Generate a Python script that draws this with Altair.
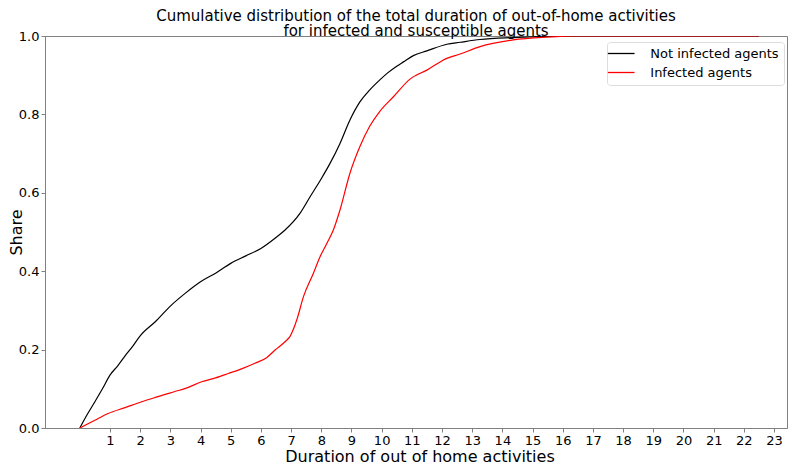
import altair as alt
import pandas as pd

series_names = ["Not infected agents", "Infected agents"]

not_inf_x = [0, 0.25, 0.5, 0.75, 1.0, 1.25, 1.5, 1.75, 2.0, 2.5, 3.0, 3.5, 4.0, 4.5, 5.0, 5.5, 6.0, 6.5,
             6.8, 7.3, 7.63, 8.0, 8.29, 8.62, 8.95, 9.28, 9.6, 9.94, 10.2, 10.5, 10.72, 11.05, 11.5,
             12.16, 12.6, 13.26, 14.36, 15.5, 16.5, 18, 20, 22.5]
not_inf_y = [0.0, 0.035, 0.067, 0.1, 0.135, 0.158, 0.184, 0.208, 0.235, 0.271, 0.311, 0.344, 0.373, 0.395,
             0.42, 0.439, 0.458, 0.486, 0.505, 0.548, 0.59, 0.636, 0.675, 0.726, 0.786, 0.832, 0.862,
             0.888, 0.906, 0.923, 0.934, 0.95, 0.962, 0.979, 0.984, 0.991, 0.996, 0.999, 1.0, 1.0, 1.0, 1.0]

inf_x = [0, 0.5, 0.94, 1.5, 2.05, 2.5, 3.15, 3.5, 4.04, 4.5, 4.92, 5.4, 5.8, 6.2, 6.47, 6.8, 6.96, 7.19,
         7.41, 7.74, 7.96, 8.18, 8.4, 8.62, 8.95, 9.28, 9.6, 9.94, 10.39, 10.94, 11.5, 12.16, 12.6, 13.26,
         14.36, 15.47, 16.6, 18, 20, 22.5]
inf_y = [0.0, 0.02, 0.037, 0.052, 0.067, 0.078, 0.093, 0.101, 0.118, 0.128, 0.139, 0.152, 0.165, 0.18,
         0.199, 0.22, 0.233, 0.276, 0.335, 0.395, 0.437, 0.47, 0.505, 0.556, 0.65, 0.718, 0.769, 0.808,
         0.845, 0.89, 0.913, 0.943, 0.954, 0.973, 0.99, 0.997, 1.0, 1.0, 1.0, 1.0]

x_ticks = list(range(1, 24))
y_ticks = [0.0, 0.2, 0.4, 0.6, 0.8, 1.0]

title_lines = ["Cumulative distribution of the total duration of out-of-home activities",
               "for infected and susceptible agents"]

df = pd.concat([
    pd.DataFrame({"x": not_inf_x, "y": not_inf_y, "series": series_names[0], "order": range(len(not_inf_x))}),
    pd.DataFrame({"x": inf_x, "y": inf_y, "series": series_names[1], "order": range(len(inf_x))}),
])

FONT = "DejaVu Sans"
GREY = "#808080"

chart = alt.Chart(df).mark_line(strokeWidth=1.2, clip=True, interpolate="monotone").encode(
    x=alt.X("x:Q",
            scale=alt.Scale(domain=[-1.153, 23.43], nice=False, zero=False),
            axis=alt.Axis(values=x_ticks, title="Duration of out of home activities", grid=False,
                          labelFontSize=13, titleFontSize=16, titleFontWeight="normal",
                          tickSize=4, labelPadding=2, format="d",
                          titleX=374.5, titleY=33, titleBaseline="alphabetic", titleAlign="center",
                          domainColor=GREY, tickColor=GREY, labelColor="#000",
                          titleColor="#000", labelFont=FONT, titleFont=FONT)),
    y=alt.Y("y:Q",
            scale=alt.Scale(domain=[0, 1], nice=False),
            axis=alt.Axis(values=y_ticks, title="Share", grid=False, format=".1f",
                          labelFontSize=13, titleFontSize=16, titleFontWeight="normal",
                          tickSize=4, labelPadding=2,
                          titleX=-24, titleY=196, titleAngle=270, titleBaseline="alphabetic",
                          titleAlign="center",
                          domainColor=GREY, tickColor=GREY, labelColor="#000",
                          titleColor="#000", labelFont=FONT, titleFont=FONT)),
    color=alt.Color("series:N",
                    scale=alt.Scale(domain=series_names, range=["#000000", "#ff0000"]),
                    legend=alt.Legend(title=None, orient="none", legendX=562, legendY=6,
                                      symbolType="M-2.67,0H2.67", symbolSize=100, symbolStrokeWidth=1.3,
                                      symbolOffset=2.7,
                                      labelFontSize=13, labelFont=FONT, labelColor="#000",
                                      padding=5, rowPadding=5, labelOffset=22.6,
                                      strokeColor="#dddddd", fillColor="#ffffff",
                                      cornerRadius=3)),
    order="order:Q",
).properties(
    width=742,
    height=392,
    title=alt.TitleParams(
        title_lines,
        fontSize=15, font=FONT, fontWeight="normal", color="#000", anchor="middle",
        lineHeight=14.8, offset=0, dy=8.6),
    autosize=alt.AutoSizeParams(type="none"),
    padding={"left": 37, "top": 28, "right": 1, "bottom": 38},
).configure_view(
    stroke=GREY, strokeWidth=1
)

chart.save("out.html", embed_options={"renderer": "svg", "actions": False})
